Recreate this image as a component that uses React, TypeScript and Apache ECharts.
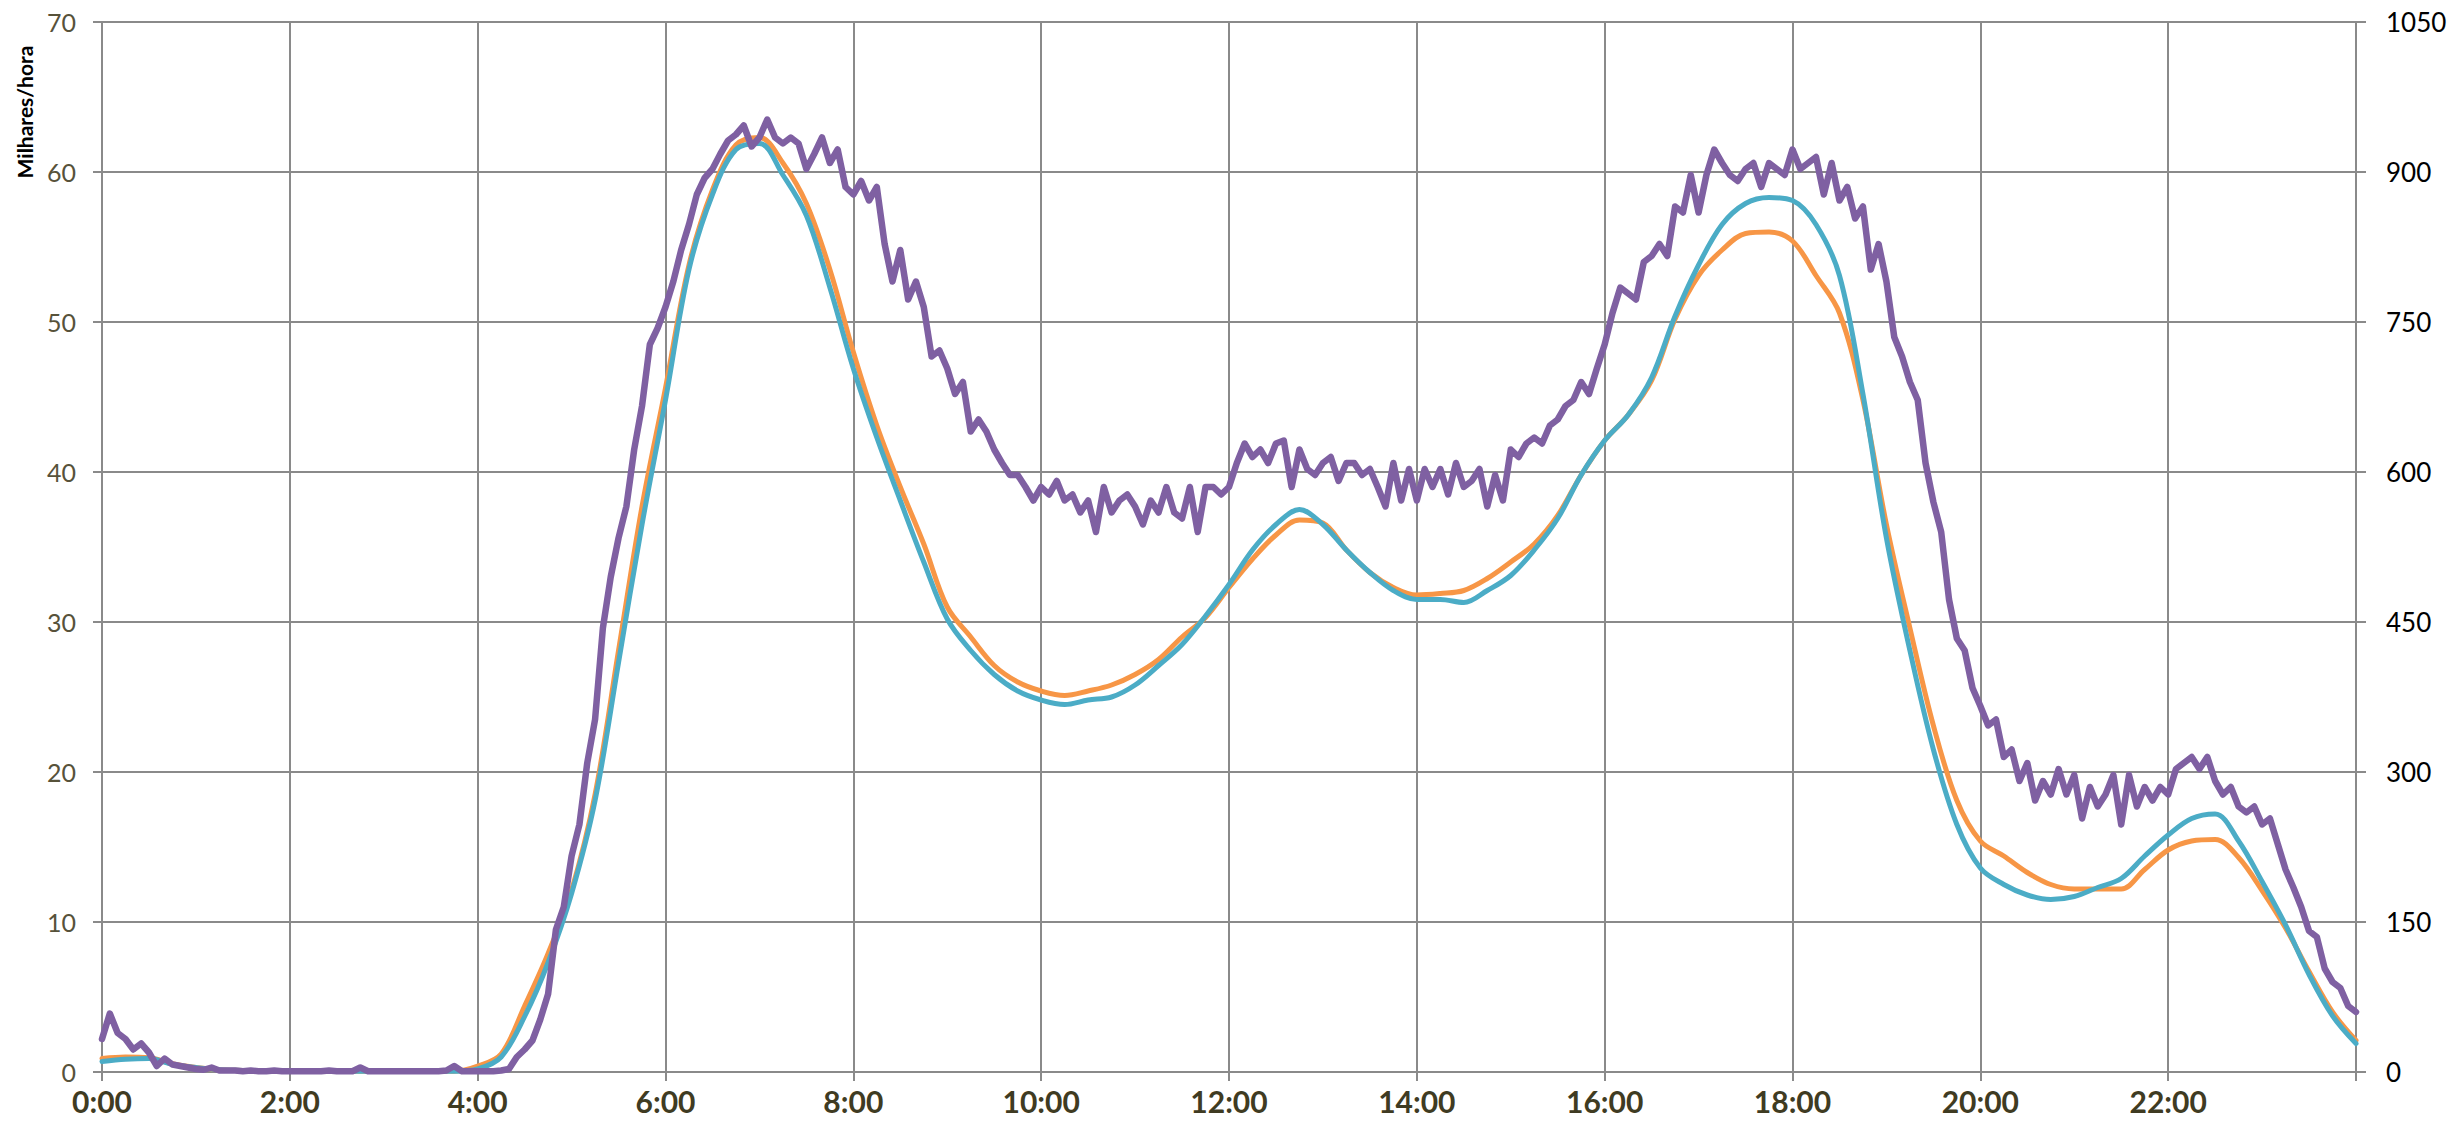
import React, { useEffect, useRef } from "react";
import * as echarts from "echarts";

// Minutes step for each series
const purpleStep = 5;
const smoothStep = 15;

// Purple (noisy) series, every 5 minutes from 0:00 to 24:00 (Milhares/hora)
const purpleValues: number[] = [
  // 0h
  2.2, 3.9, 2.6, 2.2, 1.5, 1.9, 1.3, 0.4, 0.9, 0.5, 0.4, 0.3,
  // 1h
  0.2, 0.15, 0.3, 0.1, 0.1, 0.1, 0.05, 0.1, 0.05, 0.05, 0.1, 0.05,
  // 2h
  0.05, 0.05, 0.05, 0.05, 0.05, 0.1, 0.05, 0.05, 0.05, 0.3, 0.05, 0.05,
  // 3h
  0.05, 0.05, 0.05, 0.05, 0.05, 0.05, 0.05, 0.05, 0.1, 0.4, 0.05, 0.05,
  // 4h
  0.05, 0.05, 0.05, 0.1, 0.2, 1.0, 1.5, 2.1, 3.5, 5.2, 9.5, 11.0,
  // 5h
  14.4, 16.5, 20.6, 23.5, 29.6, 33.0, 35.6, 37.7, 41.5, 44.4, 48.5, 49.6,
  // 6h
  51.0, 52.7, 54.8, 56.5, 58.5, 59.6, 60.2, 61.2, 62.1, 62.5, 63.1, 61.7,
  // 7h
  62.3, 63.5, 62.3, 61.9, 62.3, 61.9, 60.2, 61.2, 62.3, 60.6, 61.5, 59.0,
  // 8h
  58.5, 59.4, 58.1, 59.0, 55.2, 52.7, 54.8, 51.5, 52.7, 51.0, 47.7, 48.1,
  // 9h
  46.9, 45.2, 46.0, 42.7, 43.5, 42.7, 41.5, 40.6, 39.8, 39.8, 39.0, 38.1,
  // 10h
  39.0, 38.5, 39.4, 38.1, 38.5, 37.3, 38.1, 36.0, 39.0, 37.3, 38.1, 38.5,
  // 11h
  37.7, 36.5, 38.1, 37.3, 39.0, 37.3, 36.9, 39.0, 36.0, 39.0, 39.0, 38.5,
  // 12h
  39.0, 40.6, 41.9, 41.0, 41.5, 40.6, 41.9, 42.1, 39.0, 41.5, 40.2, 39.8,
  // 13h
  40.6, 41.0, 39.4, 40.6, 40.6, 39.8, 40.2, 39.0, 37.7, 40.6, 38.1, 40.2,
  // 14h
  38.1, 40.2, 39.0, 40.2, 38.5, 40.6, 39.0, 39.4, 40.2, 37.7, 39.8, 38.1,
  // 15h
  41.5, 41.0, 41.9, 42.3, 41.9, 43.1, 43.5, 44.4, 44.8, 46.0, 45.2, 46.9,
  // 16h
  48.5, 50.6, 52.3, 51.9, 51.5, 54.0, 54.4, 55.2, 54.4, 57.7, 57.3, 59.8,
  // 17h
  57.3, 59.8, 61.5, 60.6, 59.8, 59.4, 60.2, 60.6, 59.0, 60.6, 60.2, 59.8,
  // 18h
  61.5, 60.2, 60.6, 61.0, 58.5, 60.6, 58.1, 59.0, 56.9, 57.7, 53.5, 55.2,
  // 19h
  52.7, 49.0, 47.7, 46.0, 44.8, 40.6, 38.0, 36.0, 31.5, 28.9, 28.1, 25.6,
  // 20h
  24.4, 23.1, 23.5, 21.0, 21.5, 19.4, 20.6, 18.1, 19.4, 18.5, 20.2, 18.5,
  // 21h
  19.8, 16.9, 19.0, 17.7, 18.5, 19.8, 16.5, 19.8, 17.7, 19.0, 18.1, 19.0,
  // 22h
  18.5, 20.2, 20.6, 21.0, 20.2, 21.0, 19.4, 18.5, 19.0, 17.7, 17.3, 17.7,
  // 23h
  16.5, 16.9, 15.2, 13.5, 12.3, 11.0, 9.4, 9.0, 6.9, 6.0, 5.6, 4.4,
  // 24:00
  4.0,
];

// Orange smooth series, every 15 minutes
const orangeValues: number[] = [
  0.9, 1.0, 0.95, 0.55, // 0h
  0.3, 0.15, 0.1, 0.05, // 1h
  0.05, 0.05, 0.05, 0.05, // 2h
  0.05, 0.05, 0.05, 0.05, // 3h
  0.4, 1.2, 4.4, 7.9, // 4h
  12.1, 18.5, 28.1, 37.7, // 5h
  45.6, 53.8, 58.8, 61.8, // 6h
  62.3, 60.6, 57.9, 53.5, // 7h
  48.0, 43.1, 39.0, 35.2, // 8h
  31.0, 29.0, 27.1, 26.0, // 9h
  25.4, 25.1, 25.4, 25.8, // 10h
  26.5, 27.5, 29.0, 30.3, // 11h
  32.3, 34.2, 35.8, 36.8, // 12h
  36.6, 34.8, 33.3, 32.3, // 13h
  31.8, 31.9, 32.1, 32.9, // 14h
  34.0, 35.2, 37.1, 39.8, // 15h
  42.1, 43.8, 46.1, 50.2, // 16h
  53.1, 54.8, 55.9, 56.0, // 17h
  55.4, 53.1, 50.6, 44.8, // 18h
  36.5, 29.6, 23.1, 18.1, // 19h
  15.4, 14.4, 13.3, 12.5, // 20h
  12.2, 12.2, 12.2, 13.5, // 21h
  14.8, 15.4, 15.5, 14.3, // 22h
  12.1, 9.6, 6.7, 4.0, // 23h
  2.1,
];

// Teal smooth series, every 15 minutes
const tealValues: number[] = [
  0.7, 0.85, 0.9, 0.5, // 0h
  0.3, 0.15, 0.1, 0.05, // 1h
  0.05, 0.05, 0.05, 0.05, // 2h
  0.05, 0.05, 0.05, 0.05, // 3h
  0.2, 1.0, 3.7, 7.3, // 4h
  11.9, 18.1, 27.3, 36.5, // 5h
  44.8, 53.5, 58.5, 61.5, // 6h
  61.9, 59.8, 57.1, 52.3, // 7h
  46.9, 42.3, 38.1, 34.0, // 8h
  30.2, 28.1, 26.5, 25.4, // 9h
  24.8, 24.5, 24.8, 25.0, // 10h
  25.8, 27.1, 28.5, 30.4, // 11h
  32.5, 34.8, 36.5, 37.5, // 12h
  36.5, 34.8, 33.3, 32.1, // 13h
  31.5, 31.5, 31.3, 32.1, // 14h
  33.1, 34.8, 36.9, 39.8, // 15h
  42.1, 43.8, 46.3, 50.4, // 16h
  53.8, 56.5, 57.9, 58.3, // 17h
  58.1, 56.5, 53.1, 45.2, // 18h
  35.6, 28.1, 21.5, 16.5, // 19h
  13.6, 12.5, 11.8, 11.5, // 20h
  11.7, 12.3, 12.9, 14.4, // 21h
  15.8, 16.9, 17.2, 15.4, // 22h
  12.7, 9.8, 6.5, 3.75, // 23h
  1.9,
];

const yAxisName = "Milhares/hora";

const GRID_COLOR = "#8a8a8a";
const FONT = "Lato, 'Open Sans', sans-serif";

export default function App() {
  const ref = useRef<HTMLDivElement>(null);

  useEffect(() => {
    if (!ref.current) return;
    const chart = echarts.init(ref.current, null, { renderer: "svg" });

    const toPairs = (vals: number[], step: number) =>
      vals.map((v, i) => [i * step, v]);

    chart.setOption({
      animation: false,
      backgroundColor: "#ffffff",
      grid: { left: 102, right: 99, top: 22, bottom: 58, containLabel: false },
      graphic: [
        {
          type: "text",
          x: 24,
          y: 112,
          rotation: Math.PI / 2,
          style: {
            text: yAxisName,
            fill: "#000",
            font: `bold 21px ${FONT}`,
            align: "center",
            verticalAlign: "middle",
          },
        },
      ],
      xAxis: {
        type: "value",
        min: 0,
        max: 1440,
        interval: 120,
        axisLine: { show: true, lineStyle: { color: GRID_COLOR, width: 2 } },
        axisTick: { show: true, length: 9, lineStyle: { color: GRID_COLOR, width: 2 } },
        splitLine: { show: true, lineStyle: { color: GRID_COLOR, width: 2 } },
        axisLabel: {
          margin: 14,
          color: "#3f3b22",
          fontWeight: "bold",
          fontSize: 30,
          fontFamily: FONT,
          formatter: (v: number) => (v >= 1440 ? "" : `${v / 60}:00`),
        },
      },
      yAxis: [
        {
          type: "value",
          min: 0,
          max: 70,
          interval: 10,
          position: "left",
          axisLine: { show: true, lineStyle: { color: GRID_COLOR, width: 2 } },
          axisTick: { show: true, length: 9, lineStyle: { color: GRID_COLOR, width: 2 } },
          splitLine: { show: true, lineStyle: { color: GRID_COLOR, width: 2 } },
          axisLabel: {
            margin: 26,
            color: "#57523a",
            fontSize: 25,
            fontFamily: FONT,
          },
        },
        {
          type: "value",
          min: 0,
          max: 1050,
          interval: 150,
          position: "right",
          axisLine: { show: true, lineStyle: { color: GRID_COLOR, width: 2 } },
          axisTick: { show: true, length: 10, lineStyle: { color: GRID_COLOR, width: 2 } },
          splitLine: { show: false },
          axisLabel: {
            margin: 30,
            color: "#000",
            fontSize: 26,
            fontFamily: FONT,
            formatter: (v: number) => String(v),
          },
        },
      ],
      series: [
        {
          name: "orange",
          type: "line",
          yAxisIndex: 0,
          data: toPairs(orangeValues, smoothStep),
          showSymbol: false,
          smooth: 0.35,
          lineStyle: { color: "#F79646", width: 5, cap: "round", join: "round" },
          z: 2,
        },
        {
          name: "teal",
          type: "line",
          yAxisIndex: 0,
          data: toPairs(tealValues, smoothStep),
          showSymbol: false,
          smooth: 0.35,
          lineStyle: { color: "#4BACC6", width: 5, cap: "round", join: "round" },
          z: 3,
        },
        {
          name: "purple",
          type: "line",
          yAxisIndex: 0,
          data: toPairs(purpleValues, purpleStep),
          showSymbol: false,
          smooth: false,
          lineStyle: { color: "#7F60A2", width: 6.5, cap: "round", join: "round" },
          z: 4,
        },
      ],
    });

    return () => chart.dispose();
  }, []);

  return (
    <div
      ref={ref}
      style={{ position: "absolute", left: 0, top: 0, width: 2455, height: 1130 }}
    />
  );
}
